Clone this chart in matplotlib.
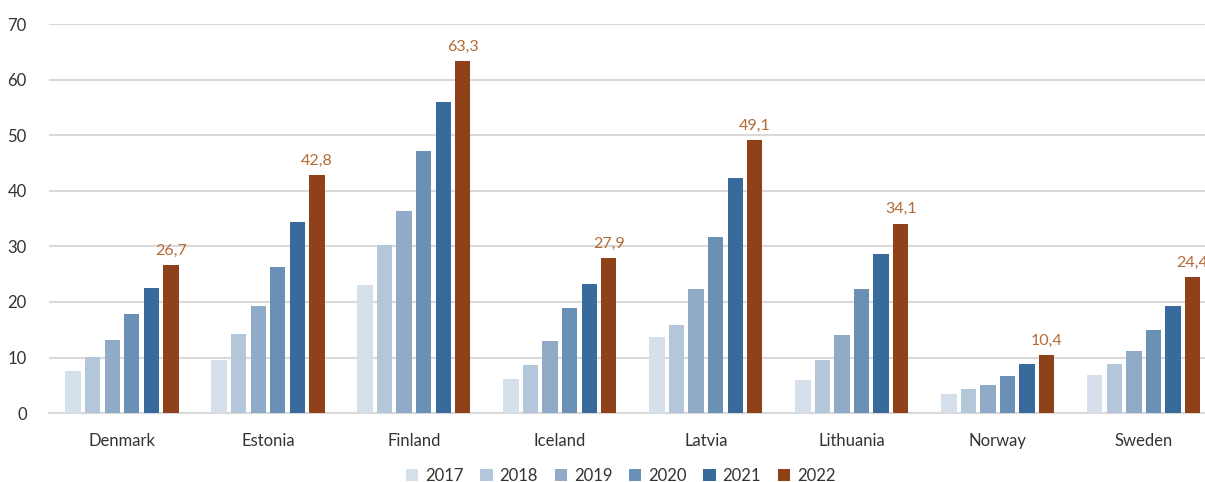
import matplotlib.pyplot as plt
import numpy as np

countries = ['Denmark', 'Estonia', 'Finland', 'Iceland', 'Latvia', 'Lithuania', 'Norway', 'Sweden']
years = ['2017', '2018', '2019', '2020', '2021', '2022']

v2017 = [7.5, 9.6, 23.1, 6.2, 13.7, 5.9, 3.5, 6.8]
v2018 = [10.1, 14.3, 30.2, 8.7, 15.9, 9.5, 4.4, 8.9]
v2019 = [13.2, 19.3, 36.4, 12.9, 22.3, 14.1, 5.1, 11.1]
v2020 = [17.8, 26.3, 47.1, 18.9, 31.6, 22.4, 6.7, 15.0]
v2021 = [22.5, 34.3, 56.0, 23.3, 42.3, 28.7, 8.8, 19.3]
v2022 = [26.7, 42.8, 63.3, 27.9, 49.1, 34.1, 10.4, 24.4]

series = [v2017, v2018, v2019, v2020, v2021, v2022]
colors = ['#d6e0ea', '#b4c7da', '#8fabc8', '#6a90b6', '#386a9c', '#8f4119']

plt.rcParams['font.family'] = ['Lato', 'DejaVu Sans']

fig = plt.figure(figsize=(12.05, 4.82), dpi=100)
ax = fig.add_axes([0.0407, 0.143, 0.969, 0.807])

x = np.arange(len(countries))
slot = 0.134
width = 0.105
for i, (vals, c, yr) in enumerate(zip(series, colors, years)):
    pos = x + (i - 2.5) * slot
    ax.bar(pos, vals, width=width, color=c, label=yr, zorder=3)
    if i == 5:
        # value labels only on the latest year
        for p, v in zip(pos, vals):
            ax.text(p, v + 1.3, f"{v:.1f}".replace('.', ','), ha='center', va='bottom',
                    fontsize=11.5, color='#b36a36', zorder=4)

ax.set_xlim(-0.5, 7.5)
ax.set_ylim(0, 70)
ax.set_yticks(range(0, 71, 10))
ax.set_xticks(x)
ax.set_xticklabels(countries)
ax.tick_params(axis='y', length=0, pad=16, labelsize=12, colors='#333333')
ax.tick_params(axis='x', length=0, pad=14, labelsize=12, colors='#333333')
ax.grid(axis='y', color='#d9d9d9', linewidth=1.5, zorder=0)
for s in ['top', 'right', 'left']:
    ax.spines[s].set_visible(False)
ax.spines['bottom'].set_color('#d9d9d9')
ax.spines['bottom'].set_linewidth(1.5)

fig.legend(loc='lower center', ncol=6, bbox_to_anchor=(0.515, -0.035), frameon=False,
           fontsize=12, handlelength=0.75, handleheight=0.75, handletextpad=0.4,
           columnspacing=1.0, labelcolor='#333333')

fig.savefig('out.png', dpi=100)
